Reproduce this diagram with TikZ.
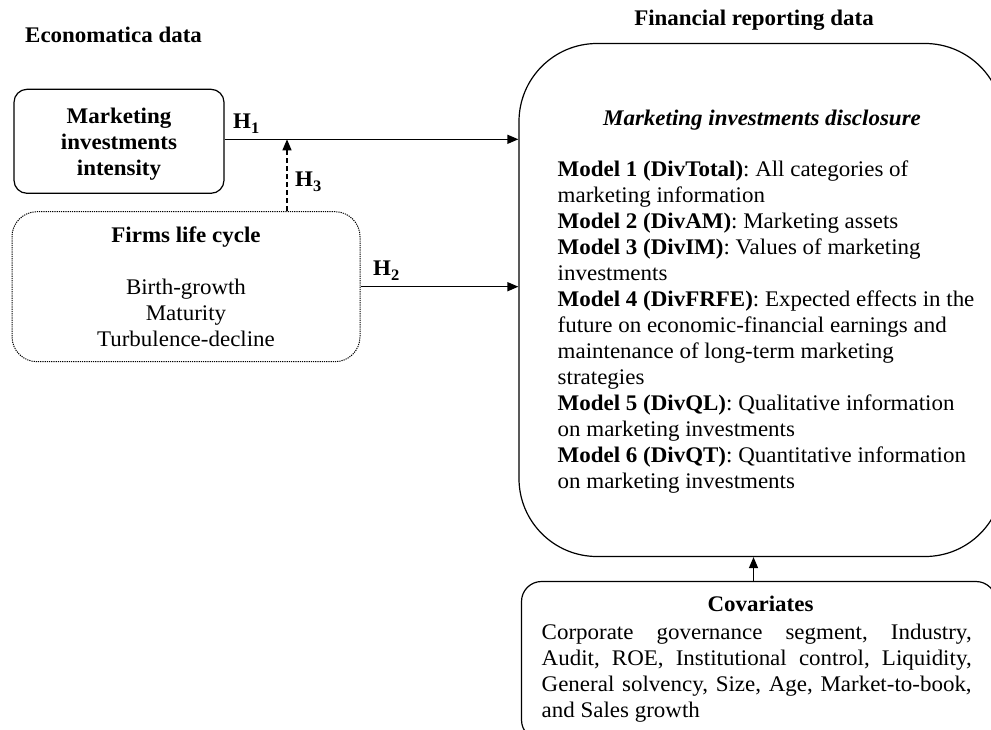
\documentclass[tikz,border=0pt]{standalone}
\usepackage{fontspec}
\setmainfont{Liberation Serif}[FakeStretch=1.03]
\usetikzlibrary{arrows.meta}
\frenchspacing
\tikzset{
  txt/.style={inner sep=0pt, font=\fontsize{22.3}{26}\selectfont},
  box/.style={draw, line width=1.2pt, rectangle, rounded corners=#1, inner sep=0pt},
  arr/.style={line width=1.4pt, -{Triangle[length=11pt,width=9pt]}},
  hlab/.style={inner sep=0pt, font=\fontsize{22.3}{26}\selectfont\bfseries},
}
\newcommand{\hyp}[1]{H\raisebox{-5pt}{\fontsize{16}{18}\selectfont #1}}
\begin{document}
\begin{tikzpicture}[x=1pt,y=-1pt]
\useasboundingbox (0,0) rectangle (991,729);
\clip (0,0) rectangle (991,729);

% headings
\node[txt, anchor=base west, font=\fontsize{22.3}{26}\selectfont\bfseries] (econ) at (25,42.5) {Economatica data};
\node[txt, anchor=base, font=\fontsize{22.3}{26}\selectfont\bfseries] (fin) at (754,25) {Financial reporting data};

% boxes
\node[box=13pt, minimum width=210pt, minimum height=104pt] (mii) at (119,141.3) {};
\node[box=25pt, line width=1pt, dash pattern=on 1.2pt off 1pt, minimum width=348pt, minimum height=150pt] (flc) at (186,286.7) {};
\node[box=78pt, minimum width=484pt, minimum height=513pt] (mid) at (761,300) {};
\node[box=20pt, minimum width=474.5pt, minimum height=158.5pt] (cov) at (758.75,660.75) {};

% box texts
\node[txt, anchor=north, align=center, font=\fontsize{22.3}{26}\selectfont\bfseries] (miitext) at (119,105.1)
  {\strut Marketing\\investments\\intensity};
\node[txt, anchor=north, align=center] (flctext) at (186,224.5)
  {\strut\textbf{Firms life cycle}\\[26pt]Birth-growth\\Maturity\\Turbulence-decline};
\node[txt, anchor=base] (midtitle) at (762,125) {\textbf{\textit{Marketing investments disclosure}}};
\node[txt, anchor=north west, align=left] (models) at (557.5,158.5)
  {\strut\textbf{Model 1 (DivTotal)}: All categories of\\
   marketing information\\
   \textbf{Model 2 (DivAM)}: Marketing assets\\
   \textbf{Model 3 (DivIM)}: Values of marketing\\
   investments\\
   \textbf{Model 4 (DivFRFE)}: Expected effects in the\\
   future on economic-financial earnings and\\
   maintenance of long-term marketing\\
   strategies\\
   \textbf{Model 5 (DivQL)}: Qualitative information\\
   on marketing investments\\
   \textbf{Model 6 (DivQT)}: Quantitative information\\
   on marketing investments};
\node[txt, anchor=base, font=\fontsize{22.3}{26}\selectfont\bfseries] (covtitle) at (760.5,611.7) {Covariates};
\node[txt, anchor=north west, align=left] (covtext) at (541.5,620.8)
  {\strut\makebox[430pt][s]{Corporate governance segment, Industry,}\\
   \makebox[430pt][s]{Audit, ROE, Institutional control, Liquidity,}\\
   \makebox[430pt][s]{General solvency, Size, Age, Market-to-book,}\\
   and Sales growth};

% connectors
\coordinate (j) at (287,139.3);
\coordinate (k) at (753.5,0);
\draw[arr] (mii.east |- j) -- (mid.west |- j);
\draw[arr, dash pattern=on 5pt off 3pt] (flc.north -| j) -- (j);
\draw[arr] (flc.east) -- (mid.west |- flc.east);
\draw[arr] (cov.north -| k) -- (mid.south -| k);

% hypothesis labels
\node[hlab, anchor=base west] (h1) at (233,128.3) {\hyp{1}};
\node[hlab, anchor=base west] (h3) at (295,186.7) {\hyp{3}};
\node[hlab, anchor=base west] (h2) at (373,275) {\hyp{2}};
\end{tikzpicture}
\end{document}
